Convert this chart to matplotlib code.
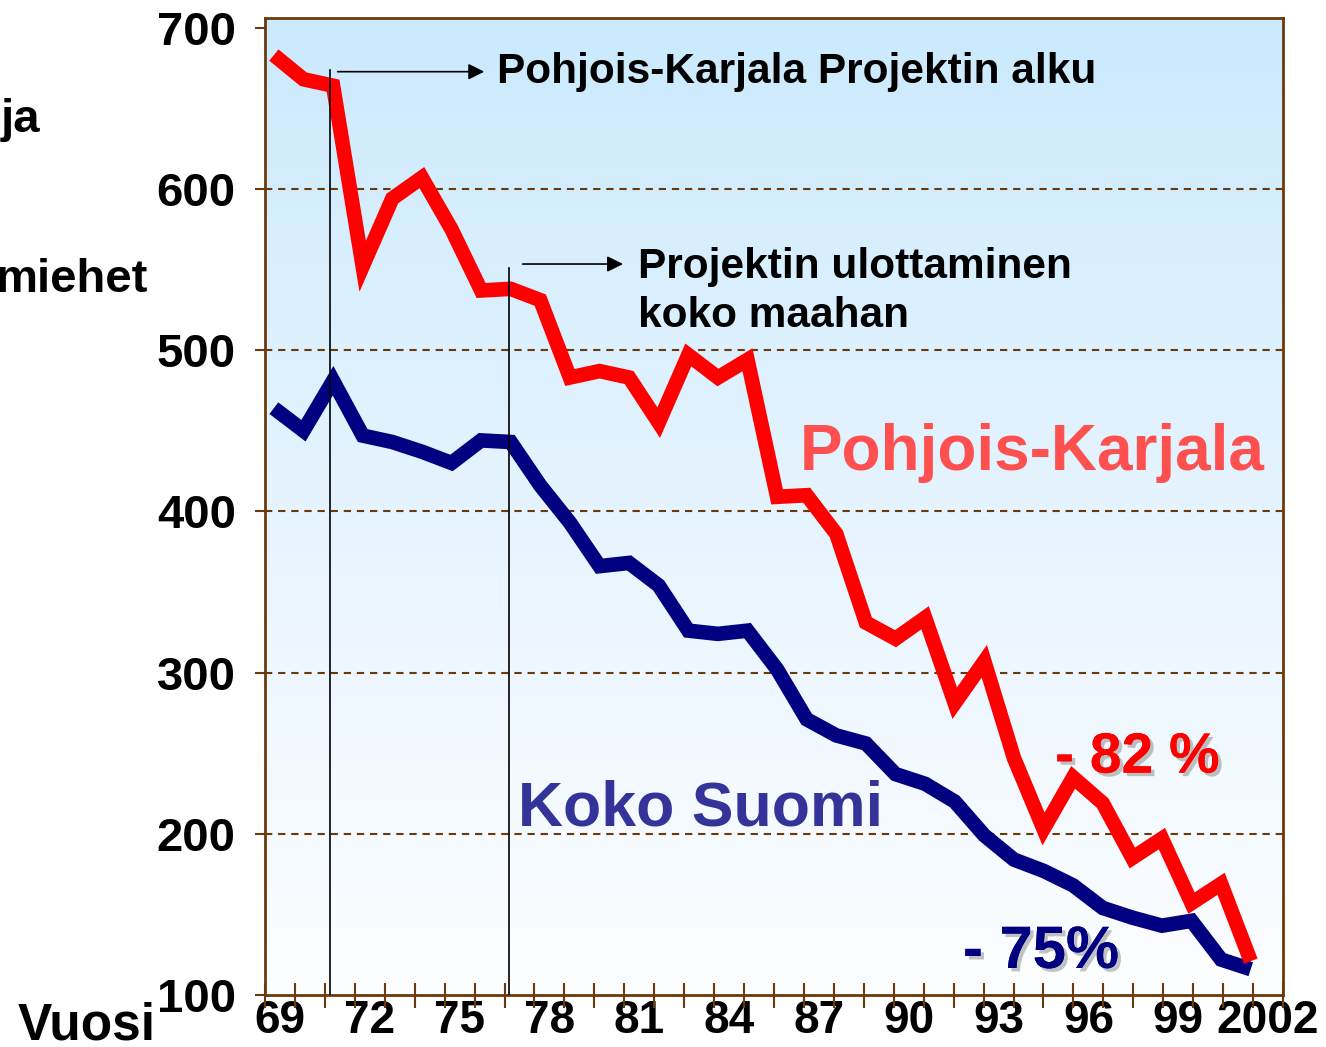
import matplotlib
matplotlib.use("Agg")
import matplotlib.pyplot as plt
import matplotlib.patheffects as pe
from matplotlib.colors import LinearSegmentedColormap
import numpy as np

# data
years = list(range(1969, 2003))
pohjois_karjala = [683, 668, 664, 552, 594, 607, 575, 537, 538, 531,
                   483, 487, 483, 455, 497, 483, 494, 409, 410, 386,
                   331, 321, 334, 281, 307, 247, 203, 235, 219, 185,
                   197, 157, 169, 121]
koko_suomi = [464, 450, 481, 447, 443, 437, 430, 444, 443, 416,
              393, 366, 368, 354, 326, 324, 326, 302, 271, 261,
              256, 237, 231, 220, 199, 184, 177, 168, 154, 148,
              143, 146, 122, 116]
y_ticks = [100, 200, 300, 400, 500, 600, 700]
x_labels = ["69", "72", "75", "78", "81", "84", "87", "90", "93", "96", "99", "2002"]
project_start = 1970.89
project_national = 1976.94

FONT = "Liberation Sans"
BROWN = "#6b3a0c"
W, H = 1326, 1047

fig = plt.figure(figsize=(W / 100, H / 100), dpi=100)
ax = fig.add_axes([265 / W, 1 - 995 / H, (1283 - 265) / W, (995 - 18) / H])

x0, x1 = 1968.7, 2003.09
y0, y1 = 100, 706

# background gradient, light blue at top fading to white
cmap = LinearSegmentedColormap.from_list("bg", ["#fdfeff", "#e6f4ff", "#cbeafd"])
grad = np.linspace(0, 1, 256).reshape(-1, 1)
ax.imshow(grad, extent=[x0, x1, y0, y1], origin="lower", aspect="auto",
          cmap=cmap, zorder=0)

for v in y_ticks[1:-1]:
    ax.axhline(v, color=BROWN, lw=1.5, dashes=(3.5, 2.8), zorder=1)

ax.plot(years, pohjois_karjala, color="#ff0000", lw=10.5, solid_joinstyle="miter",
        solid_capstyle="butt", zorder=4)
ax.plot(years, koko_suomi, color="#000080", lw=10.5, solid_joinstyle="miter",
        solid_capstyle="butt", zorder=3)

# event lines and arrows
ax.plot([project_start, project_start], [y0, 674], color="black", lw=1.2, zorder=5)
ax.plot([project_national, project_national], [y0, 551], color="black", lw=1.2, zorder=5)
ax.annotate("", xy=(1976.2, 672.7), xytext=(1971.06, 672.7),
            arrowprops=dict(arrowstyle="-|>", color="black", lw=1.2, mutation_scale=24))
ax.annotate("", xy=(1980.89, 553.4), xytext=(1977.31, 553.4),
            arrowprops=dict(arrowstyle="-|>", color="black", lw=1.2, mutation_scale=24))

ax.text(1976.53, 665.8, "Pohjois-Karjala Projektin alku", fontsize=30.5,
        fontweight="bold", family=FONT, va="baseline", zorder=6)
ax.text(1981.30, 544.7, "Projektin ulottaminen", fontsize=30.5,
        fontweight="bold", family=FONT, va="baseline", zorder=6)
ax.text(1981.30, 514.3, "koko maahan", fontsize=30.5,
        fontweight="bold", family=FONT, va="baseline", zorder=6)

ax.text(1986.77, 425.5, "Pohjois-Karjala", fontsize=46, fontweight="bold",
        family=FONT, color="#ff5050", va="baseline", zorder=6)
ax.text(1977.24, 205, "Koko Suomi", fontsize=45, fontweight="bold",
        family=FONT, color="#333399", va="baseline", zorder=6)

shadow = [pe.withSimplePatchShadow(offset=(2.5, -2.5), shadow_rgbFace="#999999", alpha=0.6),
          pe.Normal()]
ax.text(1995.39, 237.9, "- 82 %", fontsize=41, fontweight="bold", family=FONT,
        color="#ff0000", va="baseline", path_effects=shadow, zorder=6)
ax.text(1992.28, 116.8, "- 75%", fontsize=43, fontweight="bold", family=FONT,
        color="#000080", va="baseline", path_effects=shadow, zorder=6)

ax.set_xlim(x0, x1)
ax.set_ylim(y0, y1)

# axes styling
for s in ax.spines.values():
    s.set_color(BROWN)
    s.set_linewidth(2)

ax.set_yticks(y_ticks)
ax.set_yticklabels([str(v) for v in y_ticks], fontsize=34, fontweight="bold", family=FONT)
ax.tick_params(axis="y", direction="out", length=7, width=1.5, color=BROWN, pad=14)
for lbl in ax.get_yticklabels():
    lbl.set_va("center_baseline")

bounds = np.linspace(x0, x1, 35)
mids = (bounds[:-1] + bounds[1:]) / 2
ax.set_xticks(bounds, minor=True)
ax.set_xticks(mids[::3])
ax.set_xticklabels(x_labels, fontsize=33, fontweight="bold", family=FONT)
ax.tick_params(axis="x", which="minor", direction="inout", length=18, width=1.5, color=BROWN)
ax.tick_params(axis="x", which="major", length=0, pad=3)

# labels outside the plot area (cut off at the left edge in the original)
fig.text(40 / W, 1 - 132 / H, "ja", fontsize=34, fontweight="bold", family=FONT,
         ha="right", va="baseline")
fig.text(148 / W, 1 - 292 / H, "miehet", fontsize=34, fontweight="bold", family=FONT,
         ha="right", va="baseline")
fig.text(18 / W, 1 - 1040 / H, "Vuosi", fontsize=37, fontweight="bold", family=FONT,
         ha="left", va="baseline")

fig.savefig("out.png", dpi=100)
